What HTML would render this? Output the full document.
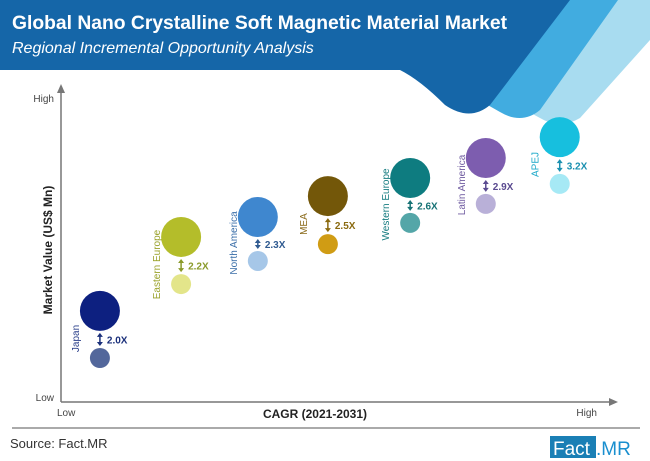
<!DOCTYPE html>
<html><head><meta charset="utf-8"><style>
body{margin:0;width:650px;height:461px;overflow:hidden;background:#fff;font-family:"Liberation Sans",sans-serif}
svg{display:block}
</style></head><body>
<svg id="c" width="650" height="461" viewBox="0 0 650 461">
  <g>
    <path d="M470 0 H650 V40 L580 118 Q560 130 540 118 L470 80 Z" fill="#a8dcf0"/>
    <path d="M440 0 H618 L540 110 Q522 125 500 112 L440 78 Z" fill="#41ace0"/>
    <path d="M0 0 H570 L490 105 Q470 122 445 105 Q420 80 400 70 H0 Z" fill="#1566a8"/>
    <text x="12" y="29" fill="#fff" font-size="19.3" font-weight="bold">Global Nano Crystalline Soft Magnetic Material Market</text>
    <text x="12" y="53" fill="#fff" font-size="16" font-style="italic">Regional Incremental Opportunity Analysis</text>
  </g>
  <g id="axes">
    <line x1="61" y1="402" x2="61" y2="90" stroke="#777" stroke-width="1.5"/>
    <path d="M57 93 L61 84 L65 93 Z" fill="#777"/>
    <line x1="61" y1="402" x2="612" y2="402" stroke="#777" stroke-width="1.5"/>
    <path d="M609 398 L618 402 L609 406 Z" fill="#777"/>
    <text x="54" y="102" font-size="10" fill="#444" text-anchor="end">High</text>
    <text x="54" y="401" font-size="10" fill="#444" text-anchor="end">Low</text>
    <text x="57" y="416" font-size="10" fill="#444">Low</text>
    <text x="597" y="416" font-size="10" fill="#444" text-anchor="end">High</text>
    <text x="315" y="418" font-size="12" font-weight="bold" fill="#222" text-anchor="middle">CAGR (2021-2031)</text>
    <text transform="translate(52,250) rotate(-90)" font-size="12" font-weight="bold" fill="#222" text-anchor="middle">Market Value (US$ Mn)</text>
  </g>
  <g id="marks"></g>
  <line x1="12" y1="428" x2="640" y2="428" stroke="#555" stroke-width="1"/>
  <text x="10" y="448" font-size="13" fill="#333">Source: Fact.MR</text>
  <g>
    <rect x="550" y="436" width="46" height="22" fill="#1a7fb5"/>
    <text x="553" y="455" font-size="19" fill="#fff">Fact</text>
    <text x="596" y="455" font-size="19" fill="#1a8fcf">.MR</text>
  </g>
</svg>
<script>
const regions=["Japan","Eastern Europe","North America","MEA","Western Europe","Latin America","APEJ"];
const cagrScore=[7.0,21.6,35.4,48.0,62.8,76.4,89.7];
const value2031=[29.2,52.9,59.3,66.0,71.8,78.2,84.9];
const value2021=[14.1,37.8,45.2,50.6,57.4,63.5,69.9];
const multipliers=["2.0X","2.2X","2.3X","2.5X","2.6X","2.9X","3.2X"];
const bigColors=["#0d2080","#b4bd2a","#3f87cf","#735709","#0e7c80","#7d5daf","#17bfde"];
const smallColors=["#53679b","#e3e58a","#a6c7e8","#d09c14","#54a6a8","#b9b0d8","#a6e9f5"];
const labelColors=["#2a3f8a","#9aa22a","#3a6ea8","#8a6a1a","#167c80","#6f5ba0","#1aa8c8"];
const valColors=["#1a2f7a","#8a9a2a","#2f5a90","#8a6a10","#167275","#5a4a90","#1a90b0"];
function xS(v){return 61+v*5.56;}
function yS(v){return 402-v*3.12;}
const NS="http://www.w3.org/2000/svg";
const g=document.getElementById('marks');
function mk(t,a){const e=document.createElementNS(NS,t);for(const k in a)e.setAttribute(k,a[k]);g.appendChild(e);return e;}
regions.forEach((r,i)=>{
  const x=xS(cagrScore[i]),yb=yS(value2031[i]),ys=yS(value2021[i]);
  const b=mk('circle',{cx:x,cy:yb,r:20,fill:bigColors[i]});
  
  
  const s=mk('circle',{cx:x,cy:ys,r:10,fill:smallColors[i]});
  
  
  const y1=yb+22,y2=ys-12;
  const ln=mk('line',{x1:x,y1:y1+3,x2:x,y2:y2-3,stroke:valColors[i],'stroke-width':1.5});
  
  
  const a1=mk('path',{d:`M${x-3} ${y1+4} L${x} ${y1} L${x+3} ${y1+4} Z`,fill:valColors[i]});
  
  
  const a2=mk('path',{d:`M${x-3} ${y2-4} L${x} ${y2} L${x+3} ${y2-4} Z`,fill:valColors[i]});
  
  
  const t=mk('text',{x:x+7,y:(y1+y2)/2+4,'font-size':10,'font-weight':'bold',fill:valColors[i]});
  t.textContent=multipliers[i];
  
  
  const lx=x-24,ly=(yb+ys)/2+4;
  const l=mk('text',{transform:`translate(${lx+3},${ly}) rotate(-90)`,'font-size':10,fill:labelColors[i],'text-anchor':'middle'});
  l.textContent=r;
  
  
});
</script>
</body></html>
